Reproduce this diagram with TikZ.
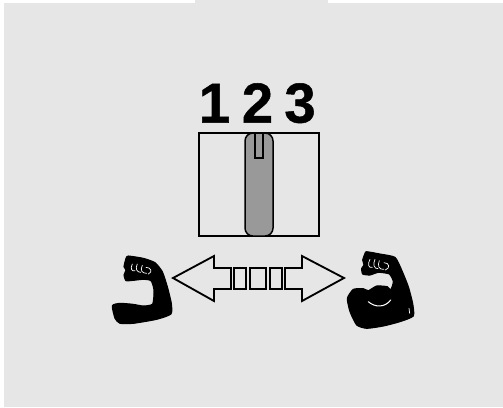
\documentclass[tikz,border=0pt]{standalone}
\usepackage{fontspec}
\setmainfont{Liberation Sans}
\newfontfamily\digitfont[UprightFont=* Bold, FakeBold=0.9]{Liberation Sans}
\usepackage{xcolor}
\definecolor{panelgray}{RGB}{230,230,230}
\definecolor{slidegray}{RGB}{153,153,153}
\definecolor{lineblack}{RGB}{0,0,0}

\begin{document}
\begin{tikzpicture}[
  x=0.02cm, y=-0.02cm,
  digit/.style={anchor=base, inner sep=0pt, text=lineblack, font=\fontsize{32}{32}\digitfont},
  plate/.style={draw=lineblack, fill=panelgray, line width=0.85pt},
  slide/.style={draw=lineblack, fill=slidegray, line width=0.85pt},
  arr/.style={draw=lineblack, fill=panelgray, line width=1.05pt, line join=miter},
  arm/.style={fill=lineblack, draw=lineblack, line width=0.6pt},
  vein/.style={draw=white, line width=0.4pt, line cap=round}
]
\useasboundingbox (0,0) rectangle (503,407);
\fill[white] (0,0) rectangle (503,407);
% panel with the small tab on top
\fill[panelgray] (3.5,3) rectangle (503,407);
\fill[panelgray] (195,0) rectangle (328,3);

% switch
\node[digit] (one) at (214.5,122.5) {1};
\node[digit] (two) at (257.5,122.5) {2};
\node[digit] (three) at (300,122.5) {3};
\draw[plate] (199,133) rectangle (319,236);
\draw[slide, rounded corners=4.5pt] (245,133) rectangle (273,236);
\draw[slide] (255,133) rectangle (263,158);

% double arrow
\draw[arr] (173,278) -- (214,256) -- (214,268) -- (231,268) -- (231,289) -- (214,289) -- (214,301) -- cycle;
\draw[arr] (344,278) -- (302,256) -- (302,268) -- (285,268) -- (285,289) -- (302,289) -- (302,301) -- cycle;
\draw[arr] (234,268) rectangle (246,289);
\draw[arr] (250,268) rectangle (266,289);
\draw[arr] (270,268) rectangle (282,289);

% small arm
\begin{scope}[shift={(100,240)}, x=0.00667cm, y=-0.00667cm]
\filldraw[arm] plot[smooth cycle, tension=0.35] coordinates {(85,48) (130,55) (165,68) (187,95) (202,140) (214,190) (213,222) (170,238) (100,250) (60,250) (45,235) (37,197) (60,190) (100,193) (130,198) (158,192) (162,150) (153,122) (130,118) (100,121) (78,122) (72,105) (78,90) (72,80) (78,55)};
\draw[vein] (97,72) .. controls (90,85) and (95,95) .. (105,92);
\draw[vein] (112,72) .. controls (105,85) and (110,97) .. (122,97);
\draw[vein] (127,76) .. controls (120,90) and (125,100) .. (140,100);
\draw[vein] (138,82) .. controls (152,82) and (160,95) .. (145,102);
\end{scope}

% big arm
\begin{scope}[shift={(260,240)}, x=0.00667cm, y=-0.00667cm]
\filldraw[arm] plot[smooth cycle, tension=0.35] coordinates {(320,35) (360,42) (405,52) (425,90) (445,140) (458,190) (460,228) (420,245) (370,258) (320,265) (290,255) (270,215) (262,175) (280,148) (310,146) (325,152) (350,138) (382,140) (392,150) (400,125) (388,102) (355,97) (330,105) (308,102) (305,85) (312,75) (308,60) (315,40)};
\draw[vein] (330,58) .. controls (322,72) and (325,85) .. (337,82);
\draw[vein] (345,58) .. controls (338,72) and (342,87) .. (354,86);
\draw[vein] (358,62) .. controls (352,76) and (356,90) .. (372,88);
\draw[vein] (372,68) .. controls (388,68) and (392,84) .. (376,90);
\draw[vein, line width=0.6pt] (325,185) .. controls (345,203) and (375,203) .. (392,180);
\draw[vein] (447,205) -- (449,220);
\end{scope}
\end{tikzpicture}
\end{document}
